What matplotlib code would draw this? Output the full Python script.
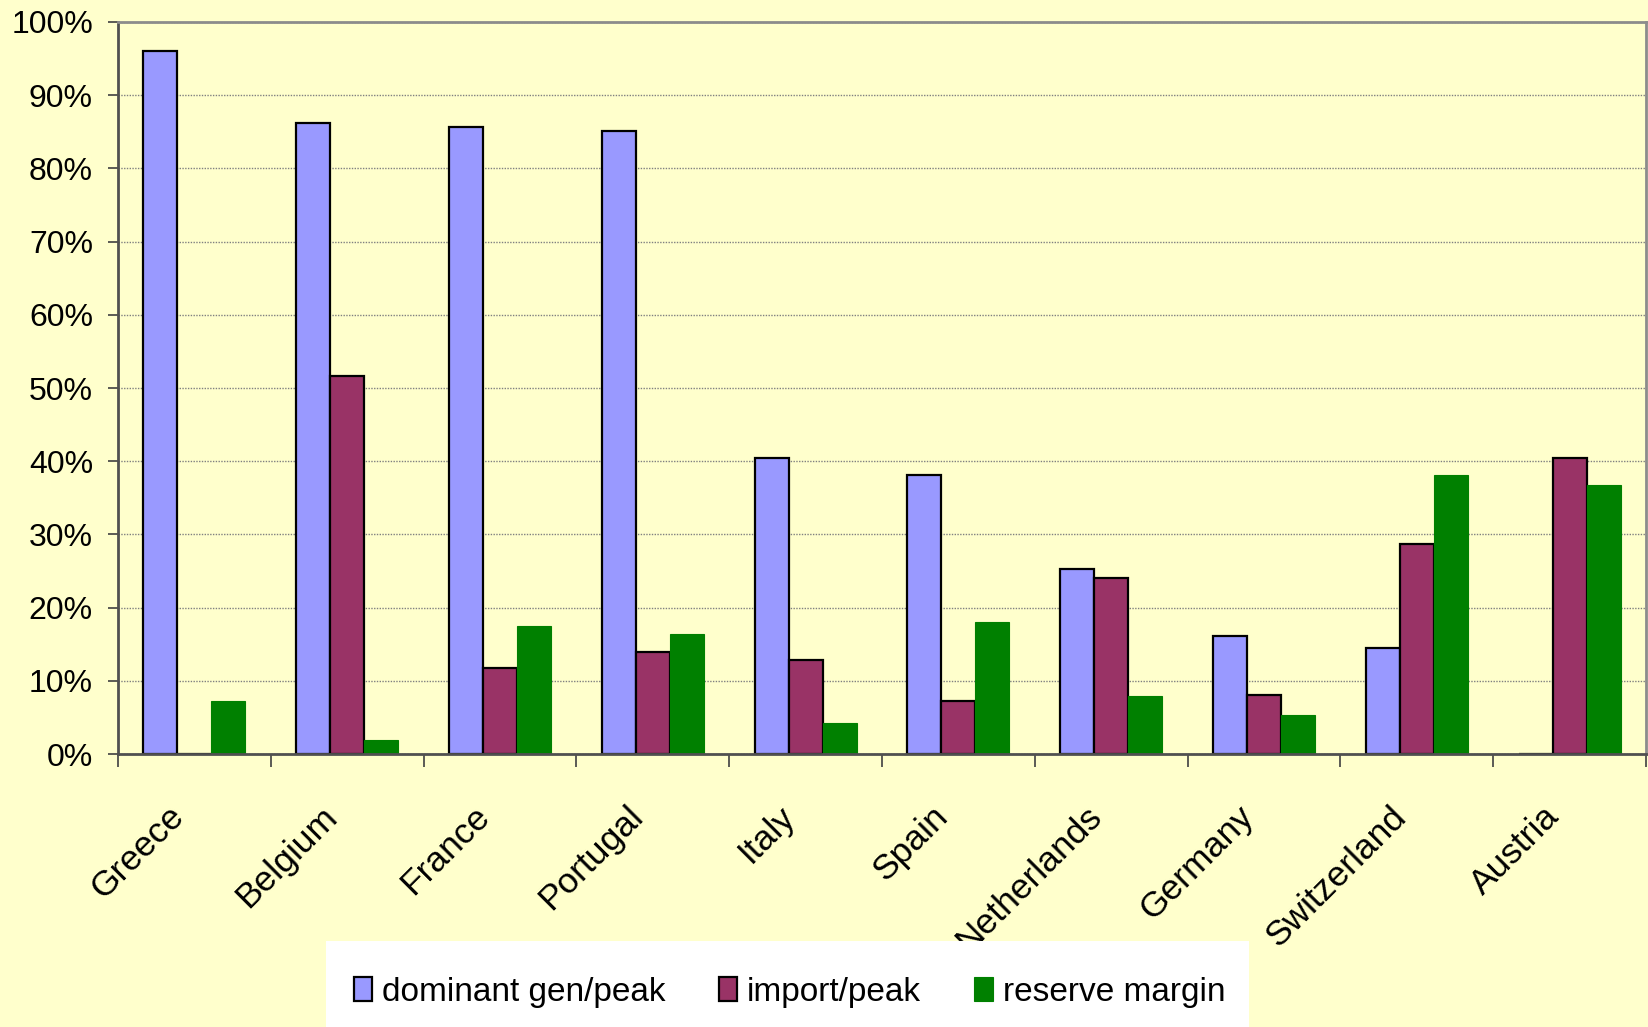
import numpy as np
import matplotlib
matplotlib.use("Agg")
import matplotlib.pyplot as plt
from matplotlib.patches import Rectangle
from matplotlib.transforms import ScaledTranslation

countries = ["Greece", "Belgium", "France", "Portugal", "Italy", "Spain",
             "Netherlands", "Germany", "Switzerland", "Austria"]
dominant_gen = [96.1, 86.2, 85.6, 85.1, 40.5, 38.1, 25.3, 16.1, 14.5, 0.0]
import_peak = [0.0, 51.7, 11.8, 13.9, 12.9, 7.2, 24.0, 8.0, 28.7, 40.4]
reserve_margin = [7.3, 1.9, 17.5, 16.4, 4.3, 18.0, 7.9, 5.3, 38.1, 36.8]
series_names = ["dominant gen/peak", "import/peak", "reserve margin"]
ytick_vals = np.arange(0, 101, 10)

plt.rcParams['font.family'] = ['Liberation Sans', 'DejaVu Sans']
bg = '#FFFFCC'

fig = plt.figure(figsize=(16.48, 10.27), dpi=100, facecolor=bg)
ax = fig.add_axes([0.0716, 0.2658, 0.9272, 0.7128])
ax.set_facecolor(bg)

x = np.arange(len(countries))
w = 1 / 4.5
ax.bar(x - w, dominant_gen, w, color='#9999FF', edgecolor='black', linewidth=1.6,
       label=series_names[0], zorder=2)
ax.bar(x, import_peak, w, color='#993366', edgecolor='black', linewidth=1.6,
       label=series_names[1], zorder=2)
ax.bar(x + w, reserve_margin, w, color='#008000', edgecolor='#008000', linewidth=0.8,
       label=series_names[2], zorder=2)

ax.set_xlim(-0.5, len(countries) - 0.5)
ax.set_ylim(0, 100)

# y axis
ax.set_yticks(ytick_vals)
ax.set_yticklabels([f"{v}%" for v in ytick_vals], fontsize=23)
ax.tick_params(axis='y', direction='out', length=7, width=1.2, color='#404040', pad=11)
ax.yaxis.grid(True, color='#808080', linestyle=(0, (1, 1)), linewidth=1.0, zorder=0)
ax.set_axisbelow(True)

# x axis: separators between groups, labels at the centres
ax.set_xticks(np.arange(-0.5, len(countries)), minor=True)
ax.set_xticks(x)
ax.tick_params(axis='x', which='minor', direction='out', length=9, width=1.2, color='#404040')
ax.tick_params(axis='x', which='major', length=0, pad=33)
ax.set_xticklabels(countries, rotation=45, ha='right', va='top',
                   rotation_mode='anchor', fontsize=25.5)
shift = ScaledTranslation(-0.27, 0, fig.dpi_scale_trans)
for lbl in ax.get_xticklabels():
    lbl.set_transform(lbl.get_transform() + shift)

for side in ['top', 'right']:
    ax.spines[side].set_color('#8c8c8c')
    ax.spines[side].set_linewidth(2)
for side in ['left', 'bottom']:
    ax.spines[side].set_color('#505050')
    ax.spines[side].set_linewidth(2)

# white legend panel over the bottom of the labels
fig.add_artist(Rectangle((0.198, 0.0), 0.56, 0.0835, transform=fig.transFigure,
                         facecolor='white', edgecolor='none', zorder=4))
handles, labels = ax.get_legend_handles_labels()
leg = fig.legend(handles, labels, loc='center', bbox_to_anchor=(0.479, 0.034),
                 ncol=3, frameon=False, fontsize=24, handlelength=0.55,
                 handleheight=0.75, handletextpad=0.3, columnspacing=1.6)
leg.set_zorder(5)

fig.savefig("out.png", dpi=100, facecolor=bg)
